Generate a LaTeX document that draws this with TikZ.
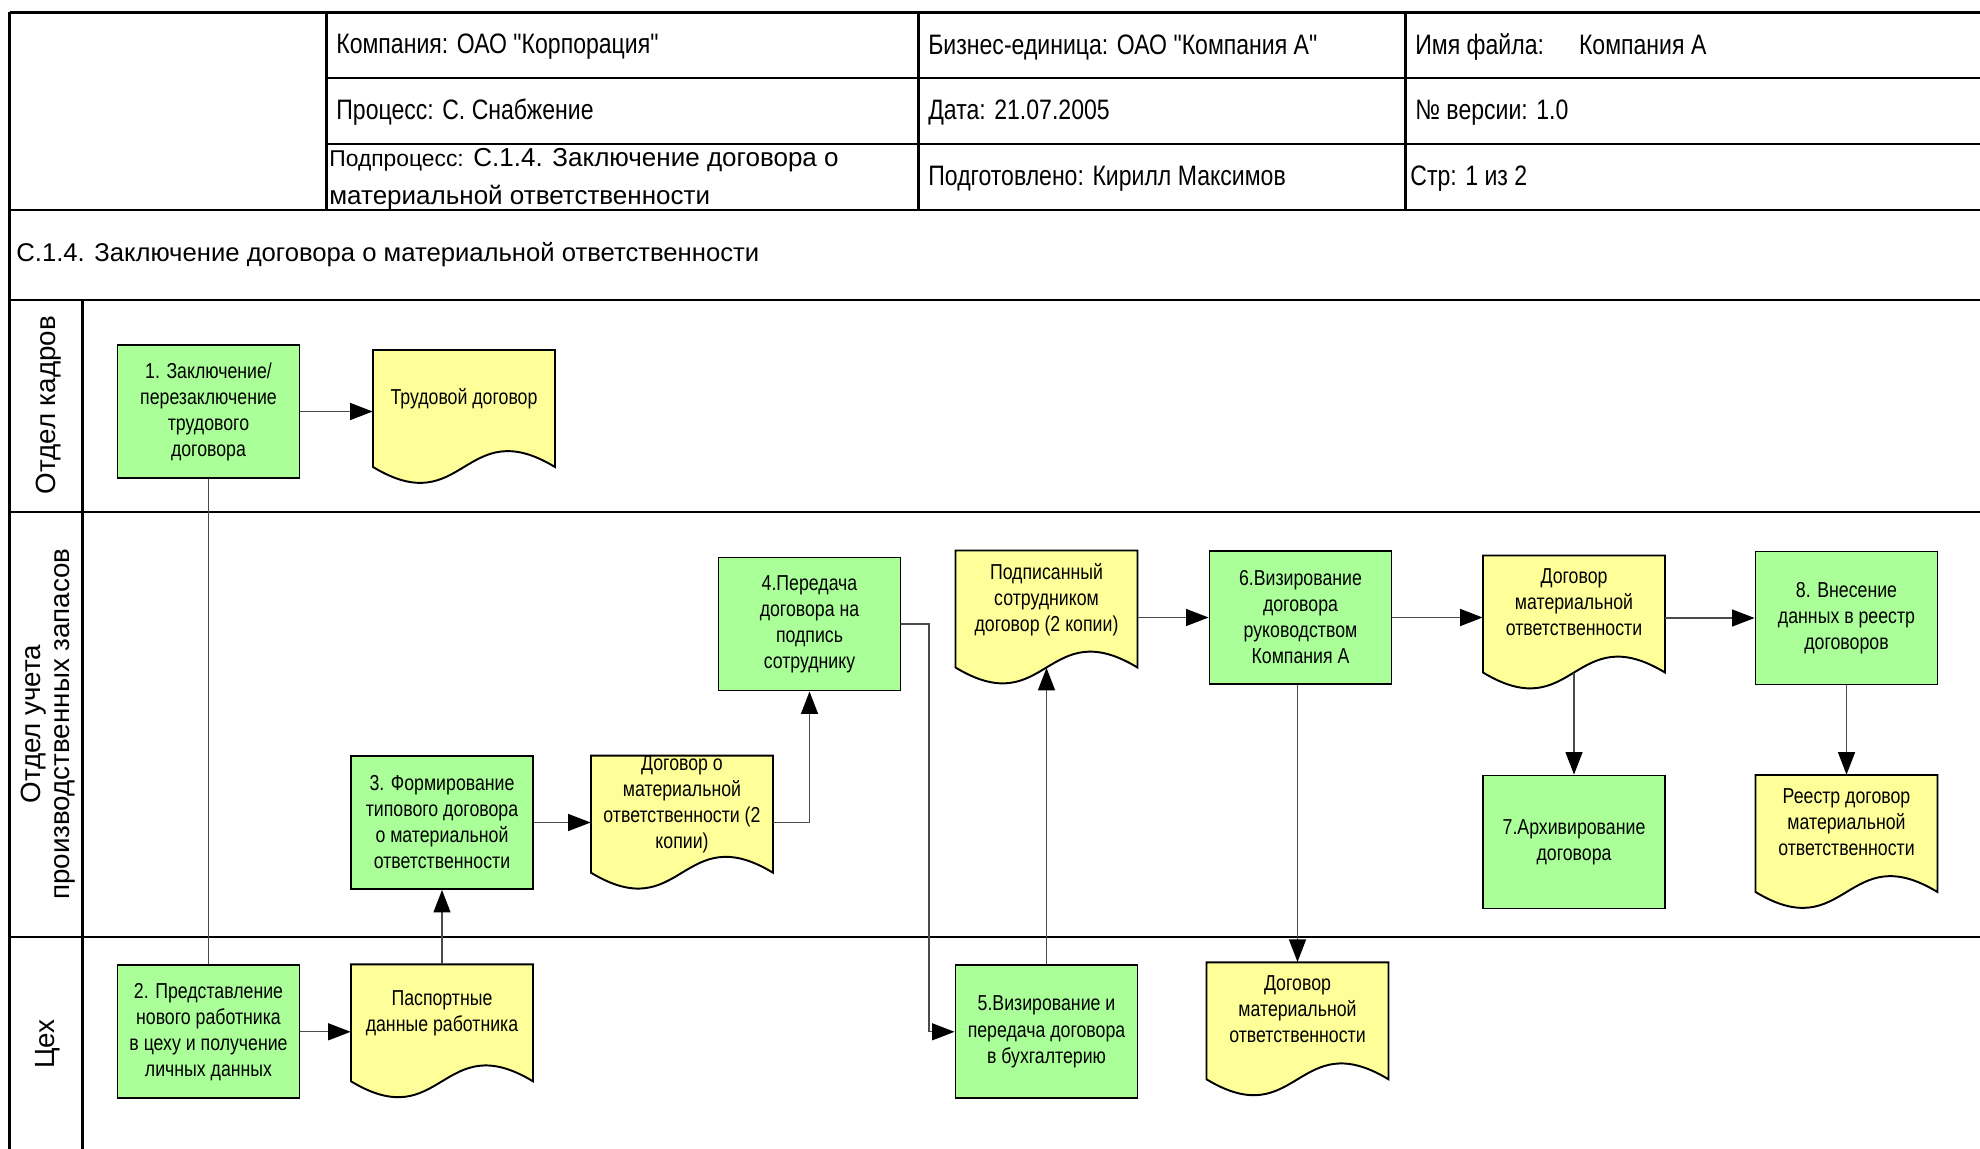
\documentclass[tikz,border=0pt]{standalone}
\usepackage{fontspec}
\setmainfont{Liberation Sans}
\newfontfamily\narrowfont{Liberation Sans}[FakeStretch=0.82]
\usepackage{tikz}
\usetikzlibrary{arrows.meta}
\usetikzlibrary{calc}
\definecolor{actfill}{HTML}{AAFF99}
\definecolor{docfill}{HTML}{FFFF99}
\definecolor{flow}{HTML}{4A4A4A}
\newcommand{\boxfont}{\narrowfont\fontsize{12.3}{14.8}\selectfont}
\newcommand{\headfont}{\narrowfont\fontsize{16}{19}\selectfont}
\newcommand{\docnode}[3]{%
  \draw[docline] ($(#2)+(-91,-58.5)$) -- ($(#2)+(-91,58.5)$)
      .. controls ($(#2)+(0,113.5)$) and ($(#2)+(0,3.5)$) .. ($(#2)+(91,58.5)$)
      -- ($(#2)+(91,-58.5)$) -- cycle;
  \node[doc] (#1) at (#2) {#3};}

\begin{document}
\begin{tikzpicture}[x=0.2mm, y=-0.2mm,
  act/.style={
    rectangle, draw=black, line width=1.1pt, fill=actfill,
    minimum width=36.4mm, minimum height=26.6mm, inner sep=1pt,
    align=center, font=\boxfont},
  doc/.style={
    rectangle, minimum width=36.4mm, minimum height=23.4mm,
    inner sep=1pt, text depth=4.7mm, align=center, font=\boxfont},
  docline/.style={draw=black, line width=1.1pt, fill=docfill},
  dep/.style={
    -{Triangle[length=4.5mm,width=3.4mm,color=black]},
    draw=flow, line width=0.7pt},
  link/.style={draw=flow, line width=0.7pt},
  grid/.style={line width=1.2pt},
  head/.style={anchor=west, inner sep=0pt, font=\headfont},
  lane/.style={rotate=90, align=center, inner sep=0pt,
    font=\fontsize{15.8}{16.5}\selectfont},
]

  \useasboundingbox (0,0) rectangle (1980,1149);

  % header and lanes
  \foreach \xa/\y in {9.5/12.5, 326.5/78, 326.5/144, 9.5/210, 9.5/300, 9.5/512, 9.5/937}
    \draw[grid] (\xa,\y) -- (1980,\y);
  \draw[grid] (9.5,12.5) -- (9.5,1149);
  \draw[grid] (82.5,300) -- (82.5,1149);
  \foreach \x in {326.5, 918.5, 1405.5}
    \draw[grid] (\x,12.5) -- (\x,210);

  \node[head] (h_comp) at (336,47) {Компания: ОАО "Корпорация"};
  \node[head] (h_unit) at (928,47) {Бизнес-единица: ОАО "Компания А"};
  \node[head] (h_file) at (1415,47) {Имя файла:\hspace{7mm}Компания А};
  \node[head] (h_proc) at (336,112.5) {Процесс: С. Снабжение};
  \node[head] (h_date) at (928,112.5) {Дата: 21.07.2005};
  \node[head] (h_ver) at (1415,112.5) {№ версии: 1.0};
  \node[anchor=west, inner sep=0pt, align=left,
        font=\fontsize{14.8}{21.5}\selectfont] (h_sub) at (329,179)
      {{\fontsize{13}{15}\selectfont Подпроцесс:} С.1.4. Заключение договора о\\материальной ответственности};
  \node[head] (h_prep) at (928,178.5) {Подготовлено: Кирилл Максимов};
  \node[head] (h_page) at (1410,178.5) {Стр: 1 из 2};

  \node[anchor=west, inner sep=0pt, font=\fontsize{14.6}{18}\selectfont] (title)
      at (16,255) {С.1.4. Заключение договора о материальной ответственности};

  \node[lane] (lane_1) at (49,405) {Отдел кадров};
  \node[lane] (lane_2) at (48,724) {Отдел учета\\производственных запасов};
  \node[lane] (lane_3) at (48,1044) {Цех};

  % activities
  \node[act] (act_1) at (208.5,411.5) {1. Заключение/\\перезаключение\\трудового\\договора};
  \node[act] (act_2) at (208.5,1031.8) {2. Представление\\нового работника\\в цеху и получение\\личных данных};
  \node[act] (act_3) at (442,822.5) {3. Формирование\\типового договора\\о материальной\\ответственности};
  \node[act] (act_4) at (809.5,624) {4.Передача\\договора на\\подпись\\сотруднику};
  \node[act] (act_5) at (1046.5,1031.8) {5.Визирование и\\передача договора\\в бухгалтерию};
  \node[act] (act_6) at (1300.5,617.5) {6.Визирование\\договора\\руководством\\Компания А};
  \node[act] (act_7) at (1574,842) {7.Архивирование\\договора};
  \node[act] (act_8) at (1846.5,618) {8. Внесение\\данных в реестр\\договоров};

  % documents
  \docnode{doc_1}{464,408.5}{Трудовой договор}
  \docnode{doc_2}{442,1022.8}{Паспортные\\данные работника}
  \docnode{doc_3}{682,814.2}{Договор о\\материальной\\ответственности (2\\копии)}
  \docnode{doc_4}{1046.5,609}{Подписанный\\сотрудником\\договор (2 копии)}
  \docnode{doc_5}{1574,614}{Договор\\материальной\\ответственности}
  \docnode{doc_6}{1297.5,1020.8}{Договор\\материальной\\ответственности}
  \docnode{doc_7}{1846.5,833.5}{Реестр договор\\материальной\\ответственности}

  % flow
  \draw[link] (act_1.south) -- (act_2.north);
  \draw[dep] (act_1.east) -- (act_1.east -| doc_1.west);
  \draw[dep] (act_2.east) -- (act_2.east -| doc_2.west);
  \draw[dep] (doc_2.north) -- (act_3.south);
  \draw[dep] (act_3.east) -- (act_3.east -| doc_3.west);
  \draw[dep] (doc_3.east |- act_3.east) -| (act_4.south);
  \draw[dep] (act_4.east) -- ++(27.5,0) |- (act_5.west);
  \draw[dep] (act_5.north) -- (doc_4.south);
  \draw[dep] (doc_4.east |- act_6.west) -- (act_6.west);
  \draw[dep] (act_6.east) -- (act_6.east -| doc_5.west);
  \draw[dep] (act_6.south -| doc_6.north) -- (doc_6.north);
  \draw[dep] (doc_5.east |- act_8.west) -- (act_8.west);
  \draw[dep] (doc_5.south) -- (act_7.north);
  \draw[dep] (act_8.south) -- (doc_7.north);

\end{tikzpicture}
\end{document}
